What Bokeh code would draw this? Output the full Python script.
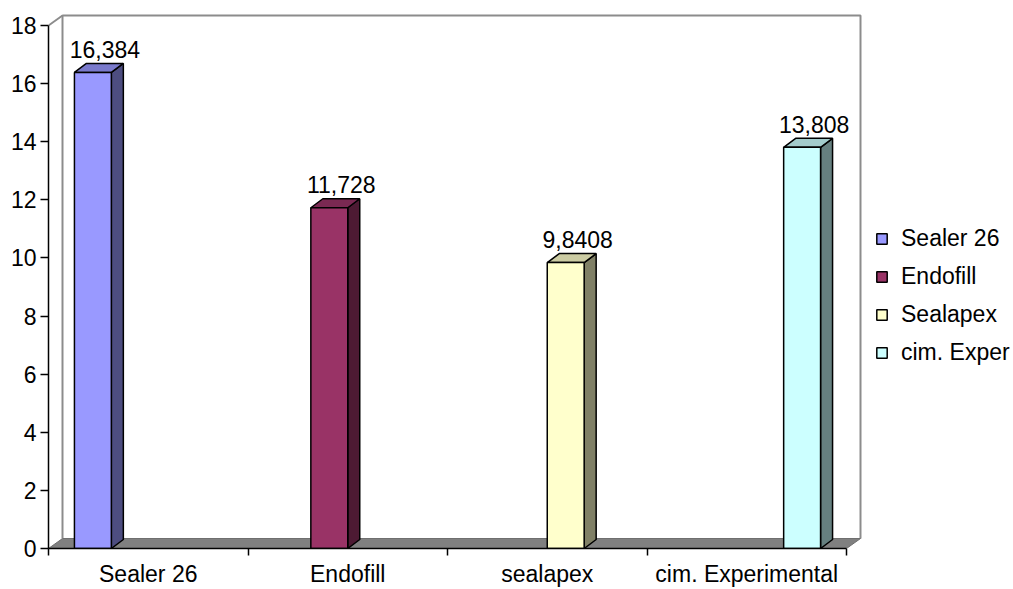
from bokeh.plotting import figure
from bokeh.models import Range1d, FixedTicker
from bokeh.core.properties import value
from bokeh.embed import file_html
from bokeh.resources import INLINE

# ---- data ----
categories = ["Sealer 26", "Endofill", "sealapex", "cim. Experimental"]
series_names = ["Sealer 26", "Endofill", "Sealapex", "cim. Exper"]
series_values = [16.384, 11.728, 9.8408, 13.808]
series_category = [0, 1, 2, 3]
y_ticks = [0, 2, 4, 6, 8, 10, 12, 14, 16, 18]

front_colors = ["#9999FF", "#993366", "#FFFFCC", "#CCFFFF"]
top_colors = ["#7A7ACC", "#7A2952", "#CCCCA3", "#A3CCCC"]
side_colors = ["#4D4D80", "#4D1A33", "#808066", "#668080"]

# ---- geometry (styling) ----
W, H = 1013, 589
FRAME_L, FRAME_B, FRAME_T = 48, 549, 13
PX_X = 199.5          # pixels per category
PX_Y = 29.11          # pixels per value unit
x_end = (W - FRAME_L) / PX_X
y_end = (FRAME_B - FRAME_T) / PX_Y

n_cat = len(categories)
n_ser = len(series_names)
gap = 0.13
bw = (1 - 2 * gap) / n_ser
dxb, dyb = 12 / PX_X, 9 / PX_Y      # bar depth
dxw, dyw = 14 / PX_X, 10 / PX_Y     # wall depth
lab_off = 14 / PX_Y                 # data label lift
ymax = y_ticks[-1]

FONT = "Liberation Sans"
FS = "23px"

p = figure(width=W, height=H, x_range=Range1d(0, x_end), y_range=Range1d(0, y_end),
           output_backend="svg", toolbar_location=None,
           min_border_left=FRAME_L, min_border_right=0,
           min_border_top=FRAME_T, min_border_bottom=H - FRAME_B)
p.outline_line_color = None
p.xgrid.visible = False
p.ygrid.visible = False
p.background_fill_color = "white"

# walls
wall_col = "#8C8C8C"
p.line([dxw, dxw, n_cat + dxw, n_cat + dxw], [dyw, ymax + dyw, ymax + dyw, dyw],
       line_color=wall_col, line_width=2)
p.line([0, dxw], [ymax, ymax + dyw], line_color=wall_col, line_width=2)
# floor
p.patch([0, n_cat, n_cat + dxw, dxw], [0, 0, dyw, dyw],
        fill_color="#808080", line_color="#6E6E6E", line_width=1)

# bars
for j, (name, v, c) in enumerate(zip(series_names, series_values, series_category)):
    x0 = c + gap + j * bw
    x1 = x0 + bw
    # side
    p.patch([x1, x1 + dxb, x1 + dxb, x1], [0, dyb, v + dyb, v],
            fill_color=side_colors[j], line_color="black", line_width=1.5)
    # top
    p.patch([x0, x0 + dxb, x1 + dxb, x1], [v, v + dyb, v + dyb, v],
            fill_color=top_colors[j], line_color="black", line_width=1.5)
    # front
    p.quad(left=[x0], right=[x1], bottom=[0], top=[v],
           fill_color=front_colors[j], line_color="black", line_width=1.5,
           legend_label=name)
    p.text(x=[(x0 + x1) / 2 + dxb], y=[v + dyb + lab_off], text=[str(v).replace(".", ",")],
           text_font=value(FONT), text_font_size=FS, text_color="black",
           text_align="center", text_baseline="alphabetic")

# axes
xa = p.xaxis[0]
xa.axis_label = None
xa.axis_label_standoff = 0
xa.ticker = FixedTicker(ticks=[i + 0.5 for i in range(n_cat)],
                        minor_ticks=list(range(n_cat + 1)))
xa.major_label_overrides = {i + 0.5: c for i, c in enumerate(categories)}
xa.bounds = (0, n_cat)
xa.major_tick_out = 0
xa.major_tick_in = 0
xa.minor_tick_out = 7
xa.minor_tick_in = 0
xa.major_label_standoff = 5
xa.major_label_text_font = FONT
xa.major_label_text_font_size = FS
xa.major_label_text_color = "black"
xa.axis_line_color = "black"
xa.axis_line_width = 1.5
xa.minor_tick_line_color = "black"
xa.minor_tick_line_width = 1.5

ya = p.yaxis[0]
ya.axis_label = None
ya.axis_label_standoff = 0
ya.ticker = FixedTicker(ticks=y_ticks, minor_ticks=[])
ya.bounds = (0, ymax)
ya.major_tick_out = 8
ya.major_tick_in = 0
ya.major_label_standoff = 4
ya.major_label_text_font = FONT
ya.major_label_text_font_size = FS
ya.major_label_text_color = "black"
ya.axis_line_color = "black"
ya.axis_line_width = 1.5
ya.major_tick_line_color = "black"
ya.major_tick_line_width = 1.5

# legend
lg = p.legend[0]
lg.location = (827, 182)
lg.padding = 0
lg.margin = 0
lg.border_line_alpha = 0
lg.background_fill_alpha = 0
lg.label_text_font = FONT
lg.label_text_font_size = FS
lg.label_text_color = "black"
lg.label_standoff = 13
lg.glyph_width = 13
lg.glyph_height = 13
lg.label_height = 24
lg.spacing = 11

open("out.html", "w").write(file_html(p, INLINE))
